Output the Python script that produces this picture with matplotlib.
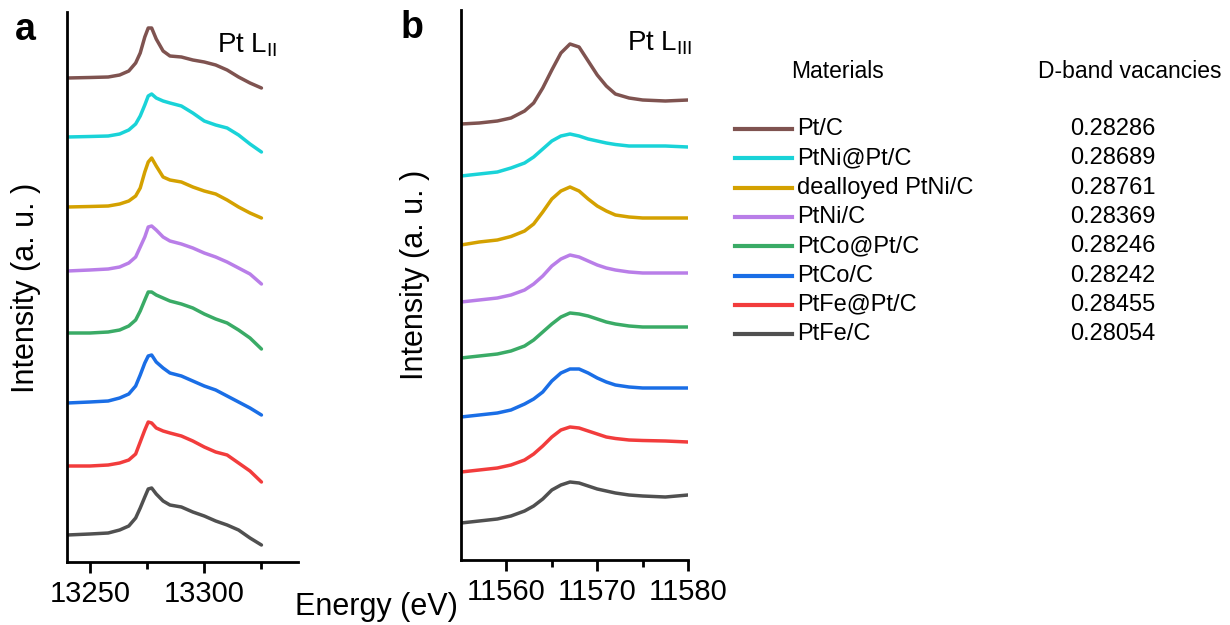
import numpy as np
import matplotlib
matplotlib.use("Agg")
import matplotlib.pyplot as plt
from matplotlib.ticker import FixedLocator

plt.rcParams['font.family'] = ['Liberation Sans', 'DejaVu Sans']

materials = ["Pt/C", "PtNi@Pt/C", "dealloyed PtNi/C", "PtNi/C",
             "PtCo@Pt/C", "PtCo/C", "PtFe@Pt/C", "PtFe/C"]
vacancies = ["0.28286", "0.28689", "0.28761", "0.28369",
             "0.28246", "0.28242", "0.28455", "0.28054"]
colors = ["#7f5350", "#19d3d8", "#d4a100", "#b97ee8",
          "#3aab66", "#1a6ee6", "#f23c3c", "#505050"]

# Pt L_II edge (panel a)
energy_a = [13240, 13250, 13258, 13263, 13267, 13270, 13272, 13274, 13275.5, 13277,
            13279, 13282, 13285, 13290, 13295, 13300, 13305, 13310, 13315, 13320, 13325]
offset_a = [484, 425, 355, 291, 229, 159, 96, 27]
lii_ptc = [0, 0.5, 1, 3, 7, 15, 25, 41, 50, 50, 39, 27, 22, 21, 18, 16, 13, 8, 1, -5, -10]
lii_ptni_pt = [0, 0.5, 1, 3, 7, 13, 21, 32, 41, 43, 39, 36, 34, 31, 24, 16, 12, 9, 2, -7, -15]
lii_deal = [0, 0.5, 1, 3, 6, 11, 19, 35, 45, 49, 41, 30, 27, 25, 20, 16, 13, 7, 0, -6, -11]
lii_ptni = [0, 1, 2, 4, 8, 14, 24, 34, 44, 45, 41, 34, 30, 27, 23, 18, 14, 9, 3, -3, -13]
lii_ptco_pt = [0, 0, 1, 3, 7, 13, 22, 33, 41, 41, 38, 35, 32, 29, 25, 19, 14, 10, 3, -5, -16]
lii_ptco = [0, 1, 2, 5, 9, 17, 28, 40, 47, 48, 41, 35, 30, 27, 22, 17, 13, 7, 1, -5, -12]
lii_ptfe_pt = [0, 0, 1, 3, 6, 12, 24, 36, 44, 43, 38, 35, 33, 30, 25, 19, 14, 11, 3, -5, -16]
lii_ptfe = [0, 1, 2, 5, 9, 17, 27, 38, 46, 47, 41, 34, 30, 28, 23, 19, 14, 10, 5, -3, -10]
lii = [lii_ptc, lii_ptni_pt, lii_deal, lii_ptni, lii_ptco_pt, lii_ptco, lii_ptfe_pt, lii_ptfe]

# Pt L_III edge (panel b)
energy_b = [11555, 11557, 11559, 11560.5, 11562, 11563, 11564, 11565, 11566, 11567,
            11568, 11569, 11570, 11571, 11572, 11573.5, 11575, 11577.5, 11580]
offset_b = [436, 384, 315, 258, 202, 143, 88, 37]
liii_ptc = [0, 1, 3, 6, 13, 21, 36, 54, 71, 80, 77, 63, 49, 38, 30, 26, 24, 23, 24]
liii_ptni_pt = [0, 2, 4, 8, 13, 19, 27, 35, 40, 42, 40, 37, 35, 33, 31.5, 30, 30, 30, 29]
liii_deal = [0, 3, 5, 8.5, 14, 21, 33, 46, 54, 58, 54, 46, 39, 34, 30, 28, 27, 27, 27]
liii_ptni = [0, 2, 4, 7, 12, 18, 26, 36, 43, 47, 45, 41, 37, 34, 32, 30, 29, 29, 29]
liii_ptco_pt = [0, 2, 4, 7, 12, 18, 26, 34, 41, 45, 44, 42, 39, 36, 34, 32, 31, 31, 31]
liii_ptco = [0, 2, 4, 7, 13, 18, 25, 36, 44, 48, 48, 44, 39, 35, 32, 30, 29, 29, 29]
liii_ptfe_pt = [0, 2, 4, 7, 12, 18, 26, 35, 42, 45, 44, 41, 38, 35, 33.5, 32, 31.5, 31, 30]
liii_ptfe = [0, 2, 4, 7, 12, 17, 24, 33, 38, 41, 40, 37, 34, 32, 30, 28, 27, 26, 28]
liii = [liii_ptc, liii_ptni_pt, liii_deal, liii_ptni, liii_ptco_pt, liii_ptco, liii_ptfe_pt, liii_ptfe]

fig = plt.figure(figsize=(12.3, 6.25), dpi=100)
ax_a = fig.add_axes([0.0545, 0.1008, 0.1878, 0.88])
ax_b = fig.add_axes([0.3748, 0.104, 0.1846, 0.88])

for i in range(len(materials)):
    ax_a.plot(energy_a, np.array(lii[i]) + offset_a[i], color=colors[i], lw=2.5,
              solid_joinstyle='round', solid_capstyle='round')
    ax_b.plot(energy_b, np.array(liii[i]) + offset_b[i], color=colors[i], lw=2.5,
              solid_joinstyle='round', solid_capstyle='round')

ax_a.set_xlim(13240, 13341)
ax_b.set_xlim(11555, 11580)
for ax in (ax_a, ax_b):
    ax.set_ylim(0, 550)
    ax.set_yticks([])
    for s in ('top', 'right'):
        ax.spines[s].set_visible(False)
    for s in ('left', 'bottom'):
        ax.spines[s].set_linewidth(2)
    ax.tick_params(axis='x', which='major', length=8, width=2, labelsize=21, pad=5)
    ax.tick_params(axis='x', which='minor', length=5, width=2)

ax_a.set_xticks([13250, 13300])
ax_a.xaxis.set_minor_locator(FixedLocator([13275, 13325]))
ax_b.set_xticks([11560, 11570, 11580])
ax_b.xaxis.set_minor_locator(FixedLocator([11565, 11575]))

fig.text(26 / 1230, 1 - 288 / 625, "Intensity (a. u. )", rotation=90,
         ha='center', va='center', fontsize=22)
fig.text(415 / 1230, 1 - 275 / 625, "Intensity (a. u. )", rotation=90,
         ha='center', va='center', fontsize=22)
fig.text(376 / 1230, 1 - 607 / 625, "Energy (eV)", ha='center', va='center', fontsize=22)

fig.text(25 / 1230, 1 - 30 / 625, "a", ha='center', va='center', fontsize=27,
         fontweight='bold')
fig.text(412 / 1230, 1 - 28 / 625, "b", ha='center', va='center', fontsize=27,
         fontweight='bold')
fig.text(217 / 1230, 1 - 52 / 625, r"Pt L$_{\mathregular{II}}$", ha='left',
         va='baseline', fontsize=20)
fig.text(627 / 1230, 1 - 50 / 625, r"Pt L$_{\mathregular{III}}$", ha='left',
         va='baseline', fontsize=20)

# legend table
fig.text(837 / 1230, 1 - 71 / 625, "Materials", ha='center', va='center', fontsize=16.5)
fig.text(1130 / 1230, 1 - 71 / 625, "D-band vacancies", ha='center', va='center',
         fontsize=16.5)
row_top = 129
row_step = 29.3
for i, (name, val) in enumerate(zip(materials, vacancies)):
    yf = 1 - (row_top + i * row_step) / 625
    fig.add_artist(plt.Line2D([735 / 1230, 792 / 1230], [yf, yf], color=colors[i],
                              lw=3, transform=fig.transFigure))
    fig.text(797 / 1230, yf, name, ha='left', va='center', fontsize=17)
    fig.text(1113 / 1230, yf, val, ha='center', va='center', fontsize=17)

fig.savefig("out.png", dpi=100)
